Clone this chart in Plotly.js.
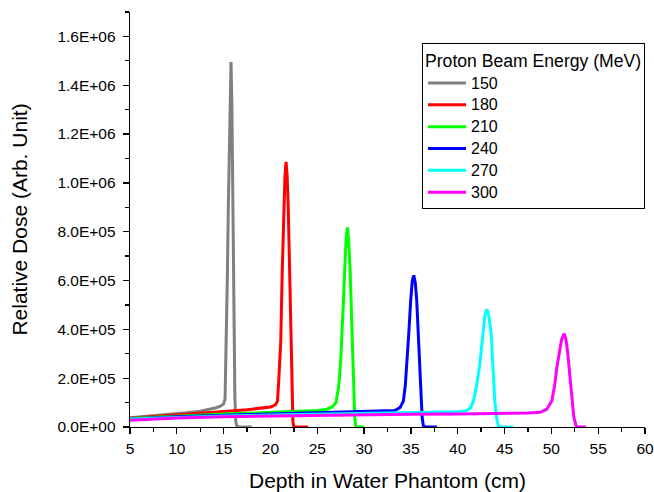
<!DOCTYPE html>
<html>
<head>
<meta charset="utf-8">
<script src="https://cdn.plot.ly/plotly-3.0.1.min.js"></script>
<style>
html,body{margin:0;padding:0;background:#fff;}
#chart{width:654px;height:492px;}
</style>
</head>
<body>
<div id="chart"></div>
<script>
// Depth (cm) and relative dose values
const depth150 = [5, 6, 7.5, 9, 10, 11, 12.5, 13.5, 14.2, 14.7, 15.0, 15.15, 15.3, 15.4, 15.5, 15.6, 15.7, 15.79, 15.88, 15.95, 16.0, 16.1, 16.2, 16.3, 16.45, 17, 18];
const dose150  = [38e3, 41e3, 46e3, 51e3, 55e3, 58e3, 65e3, 72e3, 79e3, 86e3, 95e3, 115e3, 350e3, 620e3, 900e3, 1.12e6, 1.33e6, 1.495e6, 1.33e6, 1.1e6, 900e3, 350e3, 120e3, 20e3, 0, 0, 0];

const depth180 = [5, 7.5, 10, 12.5, 15, 17.5, 19, 20, 20.5, 20.75, 20.9, 21.1, 21.25, 21.4, 21.55, 21.67, 21.78, 21.9, 22.05, 22.17, 22.3, 22.4, 22.5, 23, 24];
const dose180  = [36e3, 42e3, 48e3, 55e3, 63e3, 71e3, 76e3, 82e3, 90e3, 105e3, 200e3, 350e3, 626e3, 900e3, 1.03e6, 1.086e6, 1.03e6, 900e3, 620e3, 350e3, 120e3, 20e3, 0, 0, 0];

const depth210 = [5, 7.5, 10, 12.5, 15, 17.5, 20, 22.5, 25, 26, 26.6, 27.0, 27.3, 27.5, 27.65, 27.8, 27.94, 28.08, 28.22, 28.36, 28.5, 28.6, 28.68, 28.8, 28.9, 29.0, 29.1, 29.2, 30];
const dose210  = [35e3, 40e3, 45e3, 49e3, 53e3, 56e3, 59e3, 63e3, 68e3, 73e3, 82e3, 100e3, 170e3, 270e3, 378e3, 520e3, 653e3, 770e3, 818e3, 760e3, 653e3, 520e3, 378e3, 220e3, 103e3, 40e3, 5e3, 0, 0];

const depth240 = [5, 7.5, 10, 15, 20, 25, 30, 32, 33.3, 33.85, 34.2, 34.4, 34.55, 34.77, 34.98, 35.15, 35.31, 35.47, 35.62, 35.8, 35.9, 36.09, 36.2, 36.33, 36.5, 37.8];
const dose240  = [33e3, 38e3, 42e3, 48e3, 53e3, 58e3, 62e3, 64e3, 68e3, 80e3, 107e3, 170e3, 245e3, 382e3, 520e3, 600e3, 621e3, 590e3, 520e3, 382e3, 245e3, 107e3, 40e3, 5e3, 0, 0];

const depth270 = [5, 10, 15, 20, 25, 30, 35, 38, 40, 41, 41.4, 41.68, 42.0, 42.32, 42.68, 42.9, 43.11, 43.3, 43.57, 43.75, 43.96, 44.15, 44.35, 44.5, 45.9];
const dose270  = [33e3, 40e3, 45e3, 49e3, 52e3, 54e3, 57e3, 59e3, 62e3, 68e3, 80e3, 107e3, 165e3, 245e3, 382e3, 455e3, 482e3, 460e3, 382e3, 245e3, 107e3, 35e3, 5e3, 0, 0];

const depth300 = [5, 7.5, 10, 15, 20, 25, 30, 35, 40, 45, 47.5, 48.8, 49.5, 50.05, 50.35, 50.59, 50.86, 51.1, 51.37, 51.55, 51.72, 51.87, 52.19, 52.4, 52.65, 52.8, 53.7];
const dose300  = [28e3, 33e3, 37e3, 42e3, 45e3, 48e3, 50e3, 52e3, 53e3, 55e3, 57e3, 60e3, 72e3, 107e3, 170e3, 245e3, 313e3, 360e3, 382e3, 360e3, 313e3, 245e3, 107e3, 40e3, 3e3, 0, 0];

const energies = ['150', '180', '210', '240', '270', '300'];
const colors = ['#808080', '#ff0000', '#00ff00', '#0000ff', '#00ffff', '#ff00ff'];

const yTickVals = [0, 2e5, 4e5, 6e5, 8e5, 1e6, 1.2e6, 1.4e6, 1.6e6];
const yTickText = ['0.0E+00', '2.0E+05', '4.0E+05', '6.0E+05', '8.0E+05', '1.0E+06', '1.2E+06', '1.4E+06', '1.6E+06'];
const xTickVals = [5, 10, 15, 20, 25, 30, 35, 40, 45, 50, 55, 60];

const xs = [depth150, depth180, depth210, depth240, depth270, depth300];
const ys = [dose150, dose180, dose210, dose240, dose270, dose300];

const traces = energies.map((e, i) => ({
  x: xs[i], y: ys[i], name: '<span style="font-size:16px">' + e + '</span>', type: 'scatter', mode: 'lines',
  line: {color: colors[i], width: 3}
}));

const font = 'Arial, "Liberation Sans", sans-serif';
const layout = {
  width: 654, height: 492,
  margin: {l: 130, r: 9, t: 12, b: 65},
  paper_bgcolor: '#fff', plot_bgcolor: '#fff',
  font: {family: font, color: '#000', size: 16},
  showlegend: true,
  legend: {
    x: 1.0, y: 0.925, xanchor: 'right', yanchor: 'top',
    bordercolor: '#000', borderwidth: 1, bgcolor: '#fff',
    font: {family: font, size: 14.5, color: '#000'},
    itemwidth: 38,
    title: {text: 'Proton Beam Energy (MeV)', font: {family: font, size: 17.6, color: '#000'}},
    tracegroupgap: 0
  },
  xaxis: {
    range: [5, 60], tickvals: xTickVals, ticktext: xTickVals.map(String),
    showgrid: false, zeroline: false, showline: true, linecolor: '#000', linewidth: 1.3,
    ticks: 'outside', ticklen: 6, tickwidth: 1.3, tickcolor: '#000',
    ticklabelstandoff: 1,
    minor: {dtick: 2.5, tick0: 5, ticks: 'outside', ticklen: 4, tickwidth: 1.3, tickcolor: '#000', showgrid: false},
    tickfont: {family: font, size: 15.5, color: '#000'},
    title: {text: 'Depth in Water Phantom (cm)', font: {family: font, size: 21, color: '#000'}}
  },
  yaxis: {
    range: [0, 1.7e6], tickvals: yTickVals, ticktext: yTickText,
    showgrid: false, zeroline: false, showline: true, linecolor: '#000', linewidth: 1.3,
    ticks: 'outside', ticklen: 6, tickwidth: 1.3, tickcolor: '#000',
    ticklabelstandoff: 4,
    minor: {dtick: 1e5, tick0: 0, ticks: 'outside', ticklen: 4, tickwidth: 1.3, tickcolor: '#000', showgrid: false},
    tickfont: {family: font, size: 15.5, color: '#000'},
    title: {text: 'Relative Dose (Arb. Unit)', standoff: 24, font: {family: font, size: 21, color: '#000'}}
  }
};

Plotly.newPlot('chart', traces, layout, {displayModeBar: false, staticPlot: true});
</script>
</body>
</html>
